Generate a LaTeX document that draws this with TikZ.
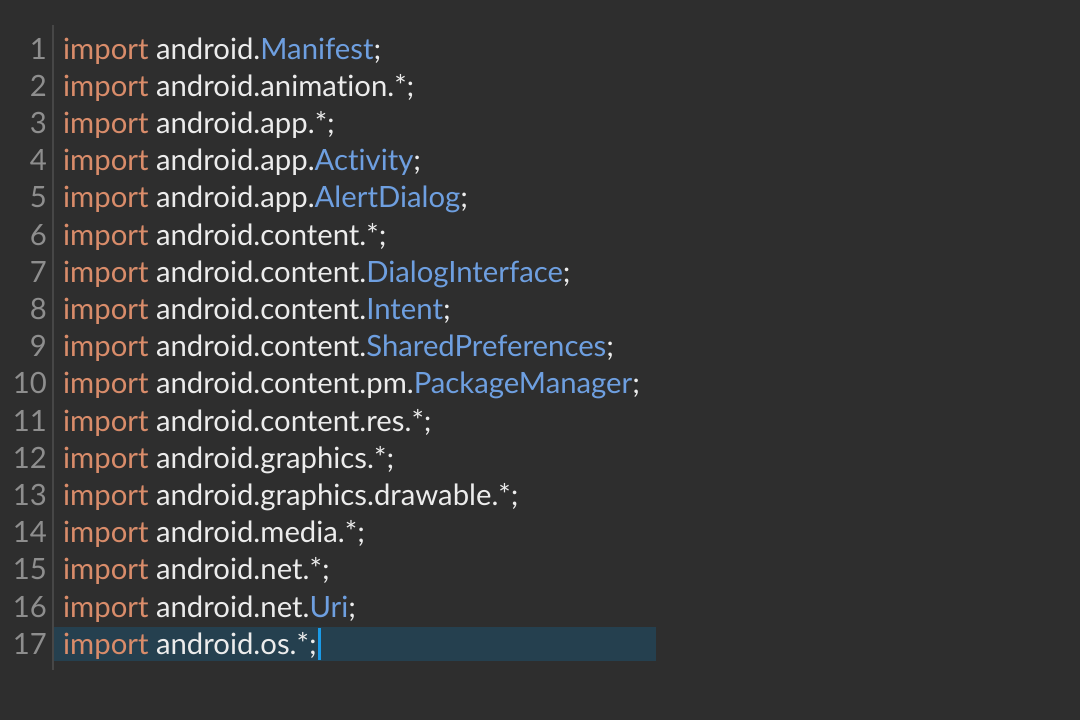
\documentclass[tikz,border=0pt]{standalone}
\usepackage{fontspec}
\setmainfont[Ligatures={NoCommon},RawFeature={-liga}]{Lato}
\usepackage{xcolor}
\usepackage{tikz}
\usetikzlibrary{positioning}
\definecolor{editorbg}{HTML}{2E2E2E}
\definecolor{guttergray}{HTML}{474747}
\definecolor{numgray}{HTML}{8E8E8E}
\definecolor{kworange}{HTML}{D98C6A}
\definecolor{plainwhite}{HTML}{ECECEC}
\definecolor{clsblue}{HTML}{6E9FE0}
\definecolor{linehl}{HTML}{25404F}
\definecolor{caretblue}{HTML}{1A9BE8}

\begin{document}
\begin{tikzpicture}[x=1pt,y=-1pt]

%\draw[help lines] (0,0) grid[step=100] (1080,720);

% Define block styles
\tikzstyle{lnum}=[anchor=base east, inner sep=0pt, text=numgray,
  font=\fontsize{29.3}{29.3}\selectfont]
\tikzstyle{code}=[anchor=base west, inner sep=0pt, text=plainwhite,
  font=\fontsize{29.3}{29.3}\selectfont]
\tikzstyle{gutter}=[draw, line width=1.5, color=guttergray]
\tikzstyle{hl}=[fill=linehl]
\tikzstyle{caret}=[fill=caretblue]

% Define distances for the lines
\newcommand{\firstbase}{59}
\newcommand{\linedist}{37.2}

\newcommand{\kw}{\textcolor{kworange}{import}}
\newcommand{\cls}[1]{\textcolor{clsblue}{#1}}

\newcommand{\codeline}[2]{%
  \path (47,{\firstbase+(#1-1)*\linedist}) node[lnum] (n#1) {#1};
  \path (63,{\firstbase+(#1-1)*\linedist}) node[code] (l#1) {\kw{} #2};}

% Draw background
\useasboundingbox[fill=editorbg] (0,0) rectangle (1080,720);
\path[hl] (54,627) rectangle (656,661);
\path[gutter] (53,25) -- (53,670);

% Draw code lines
\codeline{1}{android.\cls{Manifest};}
\codeline{2}{android.animation.*;}
\codeline{3}{android.app.*;}
\codeline{4}{android.app.\cls{Activity};}
\codeline{5}{android.app.\cls{AlertDialog};}
\codeline{6}{android.content.*;}
\codeline{7}{android.content.\cls{DialogInterface};}
\codeline{8}{android.content.\cls{Intent};}
\codeline{9}{android.content.\cls{SharedPreferences};}
\codeline{10}{android.content.pm.\cls{PackageManager};}
\codeline{11}{android.content.res.*;}
\codeline{12}{android.graphics.*;}
\codeline{13}{android.graphics.drawable.*;}
\codeline{14}{android.media.*;}
\codeline{15}{android.net.*;}
\codeline{16}{android.net.\cls{Uri};}
\codeline{17}{android.os.*;}

% Draw caret
\path[caret] ([xshift=1]l17.east |- 0,628) rectangle +(3,32);

\end{tikzpicture}
\end{document}
